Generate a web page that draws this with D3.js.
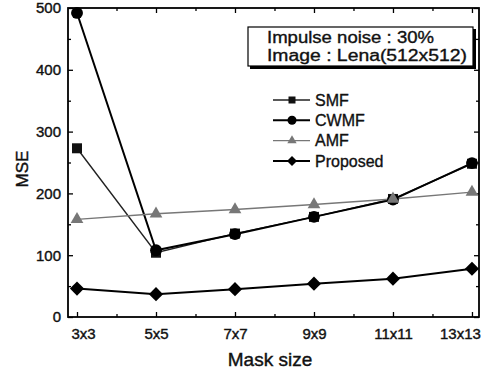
<!DOCTYPE html>
<html>
<head>
<meta charset="utf-8">
<script src="https://cdn.jsdelivr.net/npm/d3@7/dist/d3.min.js"></script>
<style>
  body { margin: 0; background: #fff; }
  svg { display: block; font-family: "Liberation Sans", Arial, sans-serif; }
  text { fill: #111; }
</style>
</head>
<body>
<div id="chart"></div>
<script>
const maskSizes = ["3x3", "5x5", "7x7", "9x9", "11x11", "13x13"];
const smf = [273, 104, 135, 162, 191, 248];
const cwmf = [492, 108, 134, 162, 190, 249];
const amf = [158, 167, 174, 182, 191, 202];
const proposed = [46, 37, 45, 54, 62, 78];
const yTicks = [0, 100, 200, 300, 400, 500];
const noteLines = ["Impulse noise : 30%", "Image : Lena(512x512)"];

const chart = (() => {
    const width = 489, height = 375;
    const left = 68, right = 479, top = 8, bottom = 317;

    const series = [
        { name: "SMF", values: smf, shape: "square", stroke: "#222", width: 1.4, fill: "#111" },
        { name: "CWMF", values: cwmf, shape: "circle", stroke: "#000", width: 2, fill: "#000" },
        { name: "AMF", values: amf, shape: "triangle", stroke: "#777", width: 1.4, fill: "#777" },
        { name: "Proposed", values: proposed, shape: "diamond", stroke: "#000", width: 2, fill: "#000" }
    ];

    // diamond = square turned 45deg, like the original markers
    const symbolFor = (shape, big) => {
        switch (shape) {
            case "square": return d3.symbol(d3.symbolSquare, big ? 100 : 49)();
            case "circle": return d3.symbol(d3.symbolCircle, big ? 110 : 64)();
            case "triangle": return d3.symbol(d3.symbolTriangle, big ? 70 : 38)();
            default: return d3.symbol(d3.symbolSquare, big ? 100 : 50)();
        }
    };
    const rot = shape => shape === "diamond" ? " rotate(45)" : "";

    const draw = () => {
        const svg = d3.select("#chart").append("svg")
            .attr("width", width)
            .attr("height", height);

        const x = d3.scaleLinear().domain([-0.114, 5.089]).range([left, right]);
        const y = d3.scaleLinear().domain([0, 500]).range([bottom, top]);
        const idx = d3.range(maskSizes.length);
        const mids = idx.slice(0, -1).map(i => i + 0.5);
        const yMinor = d3.range(50, 500, 100);

        // frame
        svg.append("rect")
            .attr("x", left).attr("y", top)
            .attr("width", right - left).attr("height", bottom - top)
            .attr("fill", "none").attr("stroke", "#000").attr("stroke-width", 1.8);

        const styleAxis = g => {
            g.select(".domain").remove();
            g.selectAll("line").attr("stroke", "#000").attr("stroke-width", 1.3);
            g.selectAll("text").attr("font-size", 15).attr("fill", "#111")
                .attr("stroke", "#111").attr("stroke-width", 0.4);
        };

        const xAxis = svg.append("g")
            .attr("transform", `translate(0,${bottom})`)
            .call(d3.axisBottom(x).tickValues(idx).tickFormat(i => maskSizes[i]).tickSize(-5).tickPadding(11))
            .call(styleAxis);
        // end labels sit a little inward in the original
        xAxis.selectAll("text").attr("dx", (d, i) => i === 0 ? 6 : (i === maskSizes.length - 1 ? -12 : 0));

        svg.append("g")
            .attr("transform", `translate(0,${bottom})`)
            .call(d3.axisBottom(x).tickValues(mids).tickFormat("").tickSize(-3))
            .call(styleAxis);
        svg.append("g")
            .attr("transform", `translate(0,${top})`)
            .call(d3.axisTop(x).tickValues(idx).tickFormat("").tickSize(-5))
            .call(styleAxis);
        svg.append("g")
            .attr("transform", `translate(0,${top})`)
            .call(d3.axisTop(x).tickValues(mids).tickFormat("").tickSize(-3))
            .call(styleAxis);

        svg.append("g")
            .attr("transform", `translate(${left},0)`)
            .call(d3.axisLeft(y).tickValues(yTicks).tickSize(-5).tickPadding(7))
            .call(styleAxis);
        svg.append("g")
            .attr("transform", `translate(${left},0)`)
            .call(d3.axisLeft(y).tickValues(yMinor).tickFormat("").tickSize(-3))
            .call(styleAxis);
        svg.append("g")
            .attr("transform", `translate(${right},0)`)
            .call(d3.axisRight(y).tickValues(yTicks).tickFormat("").tickSize(-5))
            .call(styleAxis);
        svg.append("g")
            .attr("transform", `translate(${right},0)`)
            .call(d3.axisRight(y).tickValues(yMinor).tickFormat("").tickSize(-3))
            .call(styleAxis);

        // axis titles
        svg.append("text")
            .attr("x", 270).attr("y", 366)
            .attr("text-anchor", "middle")
            .attr("font-size", 19)
            .attr("stroke", "#111").attr("stroke-width", 0.4)
            .text("Mask size");
        svg.append("text")
            .attr("transform", `translate(28,169) rotate(-90)`)
            .attr("text-anchor", "middle")
            .attr("font-size", 17)
            .attr("stroke", "#111").attr("stroke-width", 0.4)
            .text("MSE");

        // lines + markers
        const line = d3.line().x((d, i) => x(i)).y(d => y(d));
        series.forEach(s => {
            svg.append("path")
                .attr("d", line(s.values))
                .attr("fill", "none")
                .attr("stroke", s.stroke)
                .attr("stroke-width", s.width);
        });
        series.forEach(s => {
            svg.append("g").selectAll("path")
                .data(s.values)
                .enter().append("path")
                .attr("transform", (d, i) => `translate(${x(i)},${y(d)})` + rot(s.shape))
                .attr("d", symbolFor(s.shape, true))
                .attr("fill", s.fill);
        });

        // note box with drop shadow
        svg.append("rect")
            .attr("x", 250).attr("y", 29).attr("width", 226).attr("height", 40)
            .attr("fill", "#000");
        svg.append("rect")
            .attr("x", 248).attr("y", 27).attr("width", 225).attr("height", 39)
            .attr("fill", "#fff").attr("stroke", "#000").attr("stroke-width", 1.2);
        const noteWidths = [167, 200];
        svg.append("g").selectAll("text")
            .data(noteLines)
            .enter().append("text")
            .attr("x", 267)
            .attr("y", (d, i) => 43 + i * 18)
            .attr("font-size", 16)
            .attr("textLength", (d, i) => noteWidths[i])
            .attr("lengthAdjust", "spacingAndGlyphs")
            .attr("stroke", "#111").attr("stroke-width", 0.35)
            .text(d => d);

        // legend
        const legend = svg.append("g").selectAll("g")
            .data(series)
            .enter().append("g")
            .attr("transform", (d, i) => `translate(273,${100 + i * 20.3})`);
        legend.append("line")
            .attr("x1", 0).attr("x2", 37)
            .attr("stroke", d => d.stroke)
            .attr("stroke-width", d => d.width);
        legend.append("path")
            .attr("transform", d => "translate(19,0)" + rot(d.shape))
            .attr("d", d => symbolFor(d.shape, false))
            .attr("fill", d => d.fill);
        legend.append("text")
            .attr("x", 42).attr("dy", "0.36em")
            .attr("font-size", 16)
            .attr("stroke", "#111").attr("stroke-width", 0.35)
            .text(d => d.name);
    };

    return { draw };
})();

chart.draw();
</script>
</body>
</html>
